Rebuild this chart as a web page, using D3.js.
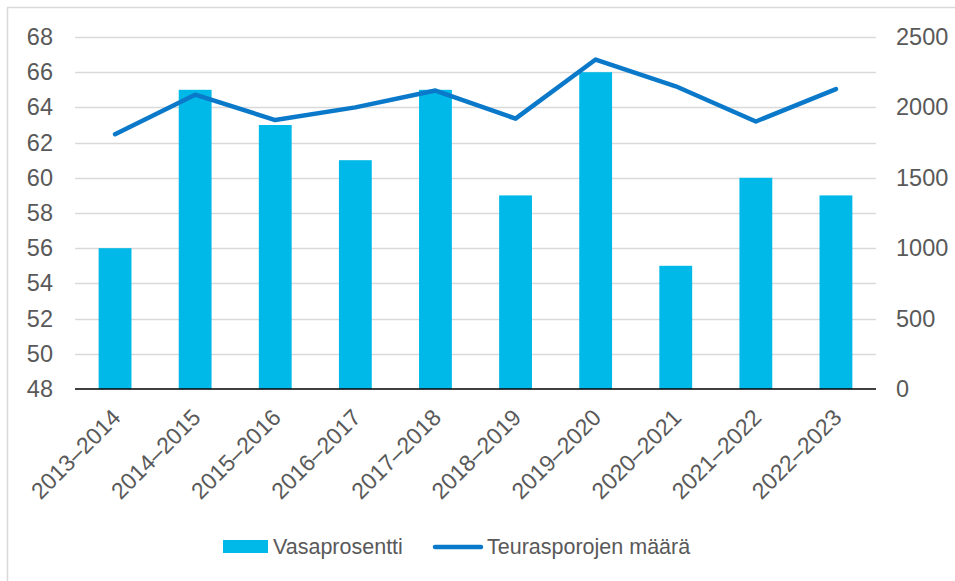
<!DOCTYPE html>
<html>
<head>
<meta charset="utf-8">
<script src="https://cdn.jsdelivr.net/npm/d3@7"></script>
<style>
  html, body { margin: 0; padding: 0; background: #fff; }
  svg { display: block; font-family: "Liberation Sans", Arial, sans-serif; }
</style>
</head>
<body>
<svg id="chart" width="955" height="581"></svg>
<script>
// Reindeer calving percentage (bars) and number of slaughtered reindeer (line)
const seasons = ["2013–2014", "2014–2015", "2015–2016", "2016–2017", "2017–2018",
                 "2018–2019", "2019–2020", "2020–2021", "2021–2022", "2022–2023"];
const vasaprosentti = [56, 65, 63, 61, 65, 59, 66, 55, 60, 59];
const teurasporot = [1810, 2090, 1910, 2000, 2120, 1920, 2340, 2150, 1900, 2130];
const leftTicks = [48, 50, 52, 54, 56, 58, 60, 62, 64, 66, 68];
const rightTicks = [0, 500, 1000, 1500, 2000, 2500];
const seriesNames = ["Vasaprosentti", "Teurasporojen määrä"];

const barColor = "#00b9e8";
const lineColor = "#0a79c9";
const textColor = "#595959";
const gridColor = "#d9d9d9";
const font = "Liberation Sans, Arial, sans-serif";

const svg = d3.select("#chart");

// chart frame
svg.append("rect")
  .attr("x", 7.5).attr("y", 7.5)
  .attr("width", 1000).attr("height", 1000)
  .attr("fill", "none").attr("stroke", gridColor).attr("stroke-width", 1.5);

const plot = { left: 75, right: 876, top: 37, bottom: 389 };

const x = d3.scaleBand().domain(seasons).range([plot.left, plot.right]).paddingInner(0.59).paddingOuter(0.295);
const xc = d => x(d) + x.bandwidth() / 2;
const yL = d3.scaleLinear().domain([48, 68]).range([plot.bottom, plot.top]);
const yR = d3.scaleLinear().domain([0, 2500]).range([plot.bottom, plot.top]);

// gridlines
svg.append("g").selectAll("line").data(leftTicks.slice(1)).join("line")
  .attr("x1", plot.left).attr("x2", plot.right)
  .attr("y1", d => Math.round(yL(d)) + 0.5).attr("y2", d => Math.round(yL(d)) + 0.5)
  .attr("stroke", gridColor).attr("stroke-width", 1.5);

// bars
svg.append("g").selectAll("rect").data(seasons).join("rect")
  .attr("x", d => x(d))
  .attr("width", x.bandwidth())
  .attr("y", (d, i) => yL(vasaprosentti[i]))
  .attr("height", (d, i) => yL(48) - yL(vasaprosentti[i]))
  .attr("fill", barColor);

// baseline
svg.append("line")
  .attr("x1", plot.left).attr("x2", plot.right)
  .attr("y1", plot.bottom).attr("y2", plot.bottom)
  .attr("stroke", "#000").attr("stroke-width", 1.5);

// line series
const line = d3.line().x((d, i) => xc(seasons[i])).y(d => yR(d));
svg.append("path").datum(teurasporot)
  .attr("d", line)
  .attr("fill", "none").attr("stroke", lineColor)
  .attr("stroke-width", 4.5).attr("stroke-linejoin", "round").attr("stroke-linecap", "round");

// left axis
const leftAxis = d3.axisLeft(yL).tickValues(leftTicks).tickSize(0).tickPadding(0).tickFormat(d3.format("d"));
const gL = svg.append("g").attr("transform", `translate(53,0)`).call(leftAxis);
gL.select(".domain").remove();
gL.selectAll("text").attr("fill", textColor).attr("font-size", 23.5).attr("font-family", font);

// right axis
const rightAxis = d3.axisRight(yR).tickValues(rightTicks).tickSize(0).tickPadding(0).tickFormat(d3.format("d"));
const gR = svg.append("g").attr("transform", `translate(896,0)`).call(rightAxis);
gR.select(".domain").remove();
gR.selectAll("text").attr("fill", textColor).attr("font-size", 23.5).attr("font-family", font);

// category axis with rotated labels
const bottomAxis = d3.axisBottom(x).tickSize(0).tickPadding(0);
const gB = svg.append("g").attr("transform", `translate(0,${plot.bottom})`).call(bottomAxis);
gB.select(".domain").remove();
gB.selectAll("text")
  .attr("fill", textColor).attr("font-size", 23).attr("font-family", font)
  .attr("text-anchor", "end")
  .attr("y", 0).attr("dy", 0)
  .attr("transform", "translate(7,30) rotate(-45)");

// legend
const legend = svg.append("g").attr("font-size", 21.5).attr("font-family", font);
legend.append("rect").attr("x", 223).attr("y", 540).attr("width", 45).attr("height", 13).attr("fill", barColor);
legend.append("text").attr("x", 273).attr("y", 554).attr("fill", textColor).text(seriesNames[0]);
legend.append("line").attr("x1", 435).attr("x2", 481).attr("y1", 547).attr("y2", 547)
  .attr("stroke", lineColor).attr("stroke-width", 4.5).attr("stroke-linecap", "round");
legend.append("text").attr("x", 487).attr("y", 554).attr("fill", textColor).text(seriesNames[1]);
</script>
</body>
</html>
